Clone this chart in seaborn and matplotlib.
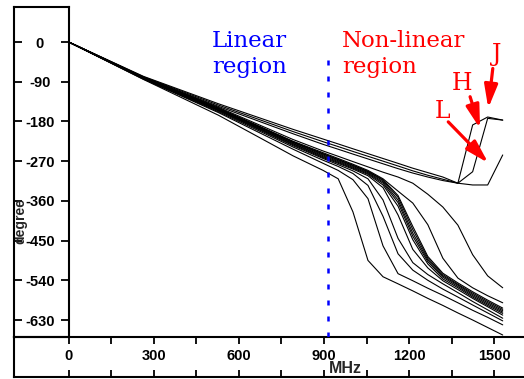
import matplotlib
matplotlib.use("Agg")
import matplotlib.pyplot as plt
import pandas as pd
import seaborn as sns

# ---- data -------------------------------------------------------------
freq_mhz = [0, 264, 528, 791, 897, 950, 1002, 1055, 1108, 1161, 1213, 1266,
            1319, 1372, 1424, 1477, 1530]

phase_J = [0, -78, -140, -198, -220, -231, -242, -253, -264, -275, -286, -296, -306, -320, -188, -170, -177]
phase_H = [0, -79, -143, -203, -226, -237, -248, -259, -270, -281, -292, -302, -311, -320, -294, -173, -177]
phase_L = [0, -80, -146, -208, -232, -243, -254, -265, -276, -287, -297, -306, -314, -320, -324, -324, -256]
phase_1 = [0, -80, -148, -221, -247, -259, -271, -283, -295, -306, -320, -345, -374, -415, -482, -530, -557]
phase_2 = [0, -81, -150, -225, -251, -264, -277, -291, -310, -338, -365, -414, -490, -535, -557, -575, -591]
phase_3 = [0, -81, -150, -226, -253, -266, -279, -293, -312, -348, -418, -486, -524, -546, -566, -585, -603]
phase_4 = [0, -81, -151, -227, -254, -267, -280, -294, -314, -352, -425, -490, -527, -549, -569, -588, -606]
phase_5 = [0, -82, -152, -228, -256, -269, -282, -296, -317, -358, -433, -494, -530, -551, -572, -591, -609]
phase_6 = [0, -82, -153, -230, -258, -271, -284, -298, -320, -364, -440, -498, -533, -554, -575, -594, -612]
phase_7 = [0, -82, -154, -231, -260, -273, -286, -300, -324, -372, -448, -503, -537, -557, -578, -597, -615]
phase_8 = [0, -83, -155, -233, -262, -275, -288, -303, -330, -392, -470, -512, -541, -561, -581, -600, -619]
phase_9 = [0, -83, -156, -235, -264, -278, -292, -310, -358, -445, -500, -527, -548, -568, -588, -607, -626]
phase_10 = [0, -84, -158, -238, -268, -282, -298, -325, -395, -480, -517, -540, -560, -578, -596, -614, -632]
phase_11 = [0, -84, -160, -243, -275, -291, -312, -355, -462, -525, -541, -558, -574, -591, -608, -624, -641]
phase_12 = [0, -85, -166, -258, -291, -310, -385, -495, -532, -548, -564, -581, -597, -614, -630, -647, -664]

curves = {
    "J": phase_J, "H": phase_H, "L": phase_L,
    "c1": phase_1, "c2": phase_2, "c3": phase_3, "c4": phase_4,
    "c5": phase_5, "c6": phase_6, "c7": phase_7, "c8": phase_8,
    "c9": phase_9, "c10": phase_10, "c11": phase_11, "c12": phase_12,
}

x_major = [0, 300, 600, 900, 1200, 1500]
x_minor = [150, 450, 750, 1050, 1350]
y_ticks = [0, -90, -180, -270, -360, -450, -540, -630]
linear_limit_mhz = 915

# region captions, one text per line
region_lines = [("Linear", "region"), ("Non-linear", "region")]
region_x = [505, 963]
region_colors = ["#0000ff", "#ff0000"]

# arrows: (label, text position, tail, tip) in data units
arrow_labels = ["J", "H", "L"]
label_pos = [(1491, -42), (1350, -109), (1291, -172)]
arrow_tail = [(1495, -60), (1415, -124), (1338, -181)]
arrow_tip = [(1479, -150), (1450, -196), (1479, -274)]

df = pd.DataFrame(
    [(name, f, p) for name, vals in curves.items() for f, p in zip(freq_mhz, vals)],
    columns=["curve", "MHz", "degree"],
)

# ---- style ------------------------------------------------------------
sns.set_style("white")
plt.rcParams["font.family"] = ["Liberation Sans", "DejaVu Sans"]
plt.rcParams["axes.unicode_minus"] = False

W, H = 524, 379
fig = plt.figure(figsize=(W / 100, H / 100), dpi=100)
fig.patch.set_facecolor("white")


def rect(x0, y0, x1, y1):
    """pixel box (origin top-left) -> figure fraction rect"""
    return [x0 / W, 1 - y1 / H, (x1 - x0) / W, (y1 - y0) / H]


# pixel geometry of the frame
X_ORIGIN, PX_PER_MHZ = 68.7, 0.28367
Y_ORIGIN, PX_PER_DEG = 42.0, 0.44127
BOX_L, PLOT_T, PLOT_B, FIG_B = 14, 7, 337, 377

ylim = (-(PLOT_B - Y_ORIGIN) / PX_PER_DEG, (Y_ORIGIN - PLOT_T) / PX_PER_DEG)
xlim = (0, (W - X_ORIGIN) / PX_PER_MHZ)
xlim_box = ((BOX_L - X_ORIGIN) / PX_PER_MHZ, xlim[1])
frame_lw = 1.5

# y-axis box with the degree scale
ax_y = fig.add_axes(rect(BOX_L, PLOT_T, X_ORIGIN, PLOT_B))
ax_y.set_facecolor("none")
ax_y.set_ylim(ylim)
ax_y.set_xlim(0, 1)
ax_y.set_xticks([])
ax_y.set_yticks(y_ticks, labels=[str(v) for v in y_ticks], ha="center",
                fontweight="bold")
ax_y.tick_params(axis="y", direction="in", left=True, right=True, length=5.8,
                 width=1.3, pad=-18.6, labelsize=10.5, colors="black")
for s in ax_y.spines.values():
    s.set_linewidth(frame_lw)
    s.set_color("black")
ax_y.set_ylabel("degree", fontweight="bold", fontsize=10)
ax_y.yaxis.set_label_coords((27.5 - BOX_L) / (X_ORIGIN - BOX_L),
                            (PLOT_B - 221) / (PLOT_B - PLOT_T))

# x-axis box with the frequency scale
ax_x = fig.add_axes(rect(BOX_L, PLOT_B, W, FIG_B))
ax_x.set_facecolor("none")
ax_x.set_xlim(xlim_box)
ax_x.set_ylim(0, 1)
ax_x.set_yticks([])
ax_x.set_xticks(x_major, labels=[str(v) for v in x_major], fontweight="bold")
ax_x.set_xticks(x_minor, minor=True)
ax_x.tick_params(axis="x", which="both", direction="in", top=True, bottom=True,
                 length=4.7, width=1.3, labelbottom=False, labeltop=True,
                 pad=-19.0, labelsize=10.5, colors="black")
ax_x.spines["right"].set_visible(False)
for s in ax_x.spines.values():
    s.set_linewidth(frame_lw)
    s.set_color("black")
ax_x.set_xlabel("MHz", fontweight="bold", fontsize=11.5)
ax_x.xaxis.set_label_coords((345 - BOX_L) / (W - BOX_L),
                            (FIG_B - 361) / (FIG_B - PLOT_B))

# main plotting area
ax = fig.add_axes(rect(X_ORIGIN, PLOT_T, W, PLOT_B))
ax.patch.set_alpha(0)
sns.lineplot(data=df, x="MHz", y="degree", units="curve", estimator=None,
             color="black", linewidth=0.8, ax=ax, legend=False)
ax.set_xlim(xlim)
ax.set_ylim(ylim)
ax.set_xticks([])
ax.set_yticks([])
ax.set_xlabel("")
ax.set_ylabel("")
for s in ax.spines.values():
    s.set_visible(False)

# boundary between the linear and non-linear regions
ax.plot([linear_limit_mhz, linear_limit_mhz], [-41, ylim[0]], color="#0000ff",
        linewidth=1.8, linestyle=(0, (2.0, 4.4)), solid_capstyle="butt")

serif = ["DejaVu Serif"]
for (first, second), x, col in zip(region_lines, region_x, region_colors):
    ax.text(x, -11, first, color=col, fontsize=16.5, family=serif,
            ha="left", va="baseline")
    ax.text(x, -70, second, color=col, fontsize=16.5, family=serif,
            ha="left", va="baseline")

for lab, pos, tail, tip in zip(arrow_labels, label_pos, arrow_tail, arrow_tip):
    ax.text(pos[0], pos[1], lab, color="#ff0000", fontsize=17, family=serif,
            ha="left", va="baseline")
    ax.annotate("", xy=tip, xytext=tail,
                arrowprops=dict(arrowstyle="-|>,head_length=1.4,head_width=0.4",
                                mutation_scale=10, lw=2.3, color="#ff0000",
                                shrinkA=0, shrinkB=0))

fig.savefig("out.png", dpi=100)
